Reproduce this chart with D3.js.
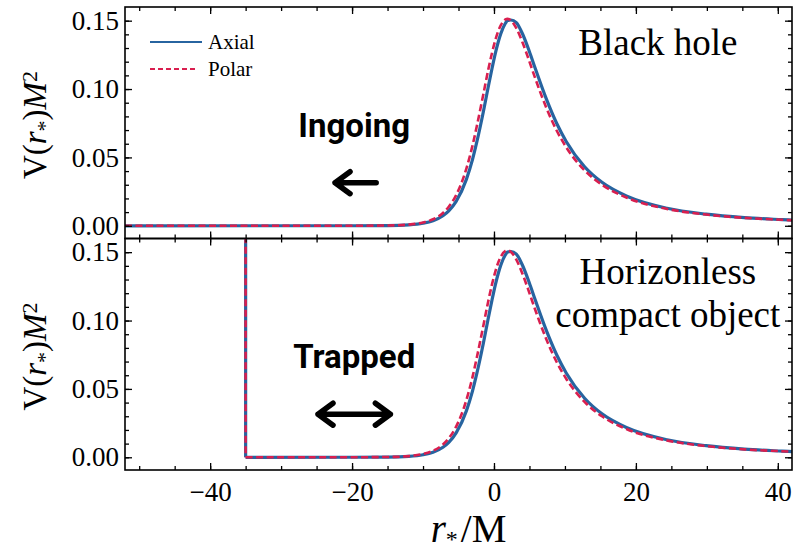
<!DOCTYPE html>
<meta charset="utf-8">
<style>
body { margin: 0; background: #fff; }
text { font-family: "Liberation Serif", "Times New Roman", serif; fill: #000; }
.axis path { display: none; }
.axis line { stroke: #000; stroke-width: 1.3; }
.bold { font-family: Roboto, "Liberation Sans", sans-serif; font-weight: 700; }
</style>
<body>
<div id="chart"></div>
<script src="https://d3js.org/d3.v7.min.js"></script>
<script>
// tortoise coordinate r*/M (shared by both curves)
var rStar = [-52, -20, -15, -12, -10, -8.59, -7.19, -6.37, -5.33, -3.89, -3.03, -2.41, -1.49, -0.82, -0.27,
             0.19, 0.60, 0.97, 1.61, 1.90, 2.39, 3.15, 4.00, 4.95, 5.81, 7.39, 8.83, 10.20, 12.77, 15.22,
             18.74, 24.39, 29.89, 35.28, 40.61, 42.2];
// axial potential V M^2
var axialV = [0, 0.00003, 0.00015, 0.00068, 0.00185, 0.00371, 0.00735, 0.01092, 0.01784, 0.03394, 0.04844, 0.06147, 0.0836, 0.1013, 0.1152,
              0.1261, 0.1344, 0.1406, 0.1481, 0.1501, 0.1505, 0.1486, 0.1406, 0.1280, 0.1152, 0.0926, 0.0750, 0.0615, 0.0432, 0.0318,
              0.0216, 0.0128, 0.0085, 0.0060, 0.0045, 0.0041];
// polar potential V M^2
var polarV = [0, 0.00004, 0.0002, 0.00088, 0.00238, 0.00475, 0.00939, 0.01391, 0.02244, 0.04183, 0.0586, 0.07312, 0.09645, 0.1138, 0.1266,
              0.1358, 0.1424, 0.1467, 0.1509, 0.1513, 0.1502, 0.1445, 0.1344, 0.1208, 0.1079, 0.0862, 0.0697, 0.0573, 0.0405, 0.0300,
              0.0205, 0.0123, 0.0082, 0.0058, 0.0044, 0.0040];
// reflecting wall of the compact object
var wallX = -35, wallTop = 0.2;

var xMajor = [-40, -20, 0, 20, 40];
var xMinor = [-50, -45, -40, -35, -30, -25, -20, -15, -10, -5, 0, 5, 10, 15, 20, 25, 30, 35, 40];
var yMajor = [0, 0.05, 0.10, 0.15];
var yMinor = [0, 0.01, 0.02, 0.03, 0.04, 0.05, 0.06, 0.07, 0.08, 0.09, 0.10, 0.11, 0.12, 0.13, 0.14, 0.15];

var panelTitles = [["Black hole"], ["Horizonless", "compact object"]];
var panelWords = ["Ingoing", "Trapped"];
var legendNames = ["Axial", "Polar"];
var colors = ["#2764a0", "#d91f4f"];

var margin = {top: 7, left: 125},
    width = 667,
    panelH = 231.5;

var x = d3.scaleLinear().domain([-52, 42]).range([0, width]);
var y = d3.scaleLinear().domain([-0.0093, 0.16]).range([panelH, 0]);

var svg = d3.select("#chart").append("svg")
    .attr("width", 806)
    .attr("height", 554);

var line = d3.line()
    .x(function(d) { return x(d[0]); })
    .y(function(d) { return y(d[1]); })
    .curve(d3.curveMonotoneX);
var straight = d3.line()
    .x(function(d) { return x(d[0]); })
    .y(function(d) { return y(d[1]); });

function series(vals, wall) {
  var pts = rStar.map(function(r, i) { return [r, vals[i]]; });
  if (wall) {
    pts = pts.filter(function(p) { return p[0] > wallX; });
    pts.unshift([wallX, 0]);
  }
  return pts;
}

// axes, ticks pointing inward on every side
function ticks(axis, vals, size, labels) {
  return axis.tickValues(vals).tickSize(-size).tickPadding(labels ? 7 : 0)
    .tickFormat(labels ? null : "");
}
function serifTicks(sel) {
  sel.selectAll(".tick text")
    .style("font-family", '"Liberation Serif", "Times New Roman", serif')
    .style("font-size", "27px");
}

[0, 1].forEach(function(p) {
  var g = svg.append("g")
      .attr("transform", "translate(" + margin.left + "," + (margin.top + p * panelH) + ")");

  g.append("clipPath").attr("id", "clip" + p)
    .append("rect").attr("width", width).attr("height", panelH);

  var plot = g.append("g").attr("clip-path", "url(#clip" + p + ")");

  [axialV, polarV].forEach(function(vals, k) {
    plot.append("path")
        .attr("fill", "none")
        .attr("stroke", colors[k])
        .attr("stroke-width", k == 0 ? 3.2 : 2.6)
        .attr("stroke-dasharray", k == 0 ? null : "7,3.5")
        .attr("d", line(series(vals, p == 1)));
    if (p == 1) {
      plot.append("path")
          .attr("fill", "none")
          .attr("stroke", colors[k])
          .attr("stroke-width", k == 0 ? 3.2 : 2.6)
          .attr("stroke-dasharray", k == 0 ? null : "7,3.5")
          .attr("d", straight([[wallX, wallTop], [wallX, 0]]));
    }
  });

  g.append("g").attr("class", "axis").attr("transform", "translate(0," + panelH + ")")
    .call(ticks(d3.axisBottom(x), xMinor, 4, false));
  g.append("g").attr("class", "axis").attr("transform", "translate(0," + panelH + ")")
    .call(ticks(d3.axisBottom(x), xMajor, 7, p == 1).tickPadding(12))
    .call(serifTicks);
  g.append("g").attr("class", "axis").call(ticks(d3.axisTop(x), xMinor, 4, false));
  g.append("g").attr("class", "axis").call(ticks(d3.axisTop(x), xMajor, 7, false));
  g.append("g").attr("class", "axis").call(ticks(d3.axisLeft(y), yMinor, 4, false));
  g.append("g").attr("class", "axis")
    .call(ticks(d3.axisLeft(y), yMajor, 7, true).tickFormat(d3.format(".2f")).tickPadding(6))
    .call(serifTicks);
  g.append("g").attr("class", "axis").attr("transform", "translate(" + width + ",0)")
    .call(ticks(d3.axisRight(y), yMinor, 4, false));
  g.append("g").attr("class", "axis").attr("transform", "translate(" + width + ",0)")
    .call(ticks(d3.axisRight(y), yMajor, 7, false));

  g.append("rect")
      .attr("width", width).attr("height", panelH)
      .attr("fill", "none").attr("stroke", "#000").attr("stroke-width", 1.6);

  // y label
  var yl = svg.append("text")
      .attr("transform", "translate(46," + (margin.top + p * panelH + 118) + ") rotate(-90)")
      .attr("text-anchor", "middle")
      .style("font-size", "33px");
  yl.append("tspan").text("V(");
  yl.append("tspan").style("font-style", "italic").text("r");
  yl.append("tspan").attr("baseline-shift", "-25%").style("font-size", "22px").text("*");
  yl.append("tspan").text(")");
  yl.append("tspan").style("font-style", "italic").text("M");
  yl.append("tspan").attr("baseline-shift", "40%").style("font-size", "22px").text("2");

  // panel title
  var t = g.append("text").attr("text-anchor", "middle").style("font-size", "37px");
  panelTitles[p].forEach(function(s, i) {
    t.append("tspan").attr("x", x(p == 0 ? 23.1 : 24.5))
      .attr("y", y(p == 0 ? 0.125 : 0.127) + i * 43).text(s);
  });

  // bold word + arrow
  g.append("text").attr("class", "bold").attr("text-anchor", "middle")
    .attr("x", x(-19.7)).attr("y", y(0.065))
    .style("font-size", "33px").text(panelWords[p]);

  var ay = y(0.0315), head = 15, half = 11;
  var x0 = p == 0 ? x(-16.6) : x(-14.6), x1 = p == 0 ? x(-22.4) : x(-24.8);
  var d = "M" + x0 + "," + ay + "L" + x1 + "," + ay +
          "M" + (x1 + head) + "," + (ay - half) + "L" + x1 + "," + ay + "L" + (x1 + head) + "," + (ay + half);
  if (p == 1) d += "M" + (x0 - head) + "," + (ay - half) + "L" + x0 + "," + ay + "L" + (x0 - head) + "," + (ay + half);
  g.append("path").attr("d", d).attr("fill", "none").attr("stroke", "#000")
    .attr("stroke-width", 5.5).attr("stroke-linecap", "round").attr("stroke-linejoin", "round");

  // legend
  if (p == 0) {
    legendNames.forEach(function(n, k) {
      g.append("line").attr("x1", 25).attr("x2", k == 0 ? 77 : 73)
        .attr("y1", 35 + k * 27).attr("y2", 35 + k * 27)
        .attr("stroke", colors[k]).attr("stroke-width", 2)
        .attr("stroke-dasharray", k == 0 ? null : "5,3");
      g.append("text").attr("x", 83).attr("y", 35 + k * 27).attr("dy", "0.33em")
        .style("font-size", "21px").text(n);
    });
  }
});

// x label
var xl = svg.append("text")
    .attr("x", margin.left + width / 2 + 10).attr("y", 542)
    .attr("text-anchor", "middle")
    .style("font-size", "39px");
xl.append("tspan").style("font-style", "italic").text("r");
xl.append("tspan").attr("baseline-shift", "-20%").style("font-size", "24px").text("*");
xl.append("tspan").attr("dx", 3).text("/M");
</script>
</body>
